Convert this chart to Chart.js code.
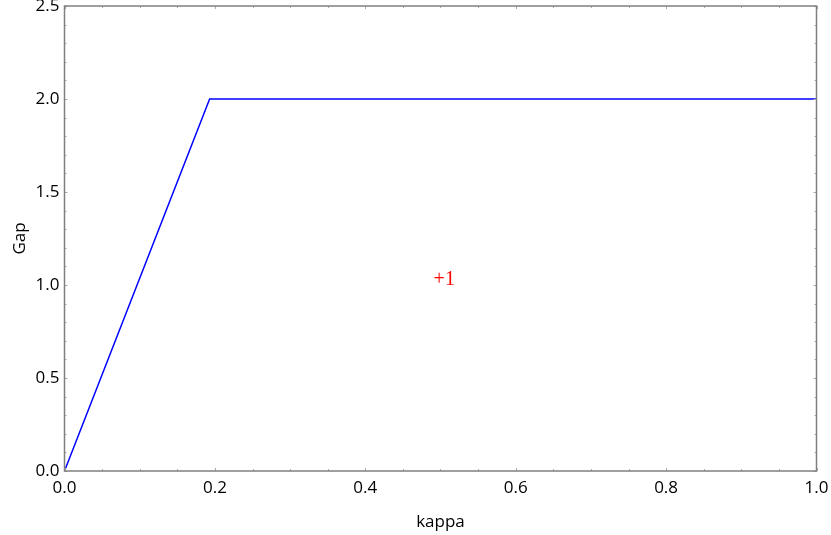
<!DOCTYPE html>
<html>
<head>
<meta charset="utf-8">
<script src="https://cdn.jsdelivr.net/npm/chart.js@4"></script>
<style>
  html, body { margin: 0; padding: 0; background: #fff; }
  #wrap { width: 831px; height: 535px; }
</style>
</head>
<body>
<div id="wrap"><canvas id="chart"></canvas></div>
<script>
// data
const kappa = [0.0, 0.193, 1.0];
const gap = [0.0, 2.0, 2.0];
const xMajorTicks = [0.0, 0.2, 0.4, 0.6, 0.8, 1.0];
const xMinorStep = 0.05;
const yMajorTicks = [0.0, 0.5, 1.0, 1.5, 2.0, 2.5];
const yMinorStep = 0.1;
const noteText = ['+1'];
const noteX = [0.505];
const noteY = [1.03];

// frame, inward ticks and the red note
const framePlugin = {
    id: 'frame',
    afterDraw(chart) {
        const { ctx, chartArea: a, scales: { x, y } } = chart;
        ctx.save();
        ctx.strokeStyle = '#aaaaaa';
        ctx.lineWidth = 1;
        ctx.beginPath();
        for (let v = 0; v <= 1.0001; v += xMinorStep) {
            const px = Math.round(x.getPixelForValue(v)) + 0.5;
            const major = xMajorTicks.some(t => Math.abs(t - v) < 1e-6);
            const len = major ? 3 : 2;
            ctx.moveTo(px, a.bottom); ctx.lineTo(px, a.bottom - len);
            ctx.moveTo(px, a.top); ctx.lineTo(px, a.top + len);
        }
        for (let v = 0; v <= 2.5001; v += yMinorStep) {
            const py = Math.round(y.getPixelForValue(v)) + 0.5;
            const major = yMajorTicks.some(t => Math.abs(t - v) < 1e-6);
            const len = major ? 3 : 2;
            ctx.moveTo(a.left, py); ctx.lineTo(a.left + len, py);
            ctx.moveTo(a.right, py); ctx.lineTo(a.right - len, py);
        }
        ctx.stroke();

        ctx.strokeStyle = '#808080';
        ctx.lineWidth = 1.5;
        ctx.strokeRect(a.left, a.top, a.right - a.left, a.bottom - a.top);

        ctx.fillStyle = '#ff0000';
        ctx.font = '20px "Liberation Serif", serif';
        ctx.textAlign = 'center';
        ctx.textBaseline = 'middle';
        noteText.forEach((t, i) => {
            ctx.fillText(t, x.getPixelForValue(noteX[i]), y.getPixelForValue(noteY[i]));
        });
        ctx.restore();
    }
};

const labelFont = { family: '"Open Sans", sans-serif', size: 17 };

const ctx = document.getElementById('chart').getContext('2d');
new Chart(ctx, {
    type: 'scatter',
    data: {
        datasets: [{
            data: kappa.map((k, i) => ({ x: k, y: gap[i] })),
            showLine: true,
            borderColor: '#0000ff',
            borderWidth: 1.5,
            pointRadius: 0,
            fill: false,
            tension: 0
        }]
    },
    options: {
        responsive: true,
        maintainAspectRatio: false,
        animation: false,
        layout: { padding: { top: 6, right: 14.5, left: 0, bottom: 0 } },
        scales: {
            x: {
                type: 'linear',
                min: 0, max: 1,
                afterFit: s => {
                    s.height = 64;
                    s.paddingLeft = 0; s.paddingRight = 0;
                },
                afterBuildTicks: s => { s.ticks = xMajorTicks.map(v => ({ value: v })); },
                grid: { display: false, drawTicks: false },
                border: { display: false },
                ticks: {
                    color: '#000',
                    padding: 7,
                    maxRotation: 0,
                    font: labelFont,
                    callback: v => v.toFixed(1)
                },
                title: {
                    display: true, text: 'kappa', color: '#000',
                    font: labelFont,
                    padding: { top: 0, bottom: 3 }
                }
            },
            y: {
                type: 'linear',
                min: 0, max: 2.5,
                afterFit: s => {
                    s.width = 64.5;
                    s.paddingTop = 0; s.paddingBottom = 0;
                },
                afterBuildTicks: s => { s.ticks = yMajorTicks.map(v => ({ value: v })); },
                grid: { display: false, drawTicks: false },
                border: { display: false },
                ticks: {
                    color: '#000',
                    padding: 5,
                    font: labelFont,
                    callback: v => v.toFixed(1)
                },
                title: {
                    display: true, text: 'Gap', color: '#000',
                    font: labelFont,
                    padding: { top: 10, bottom: 0 }
                }
            }
        },
        plugins: {
            legend: { display: false },
            tooltip: { enabled: false }
        }
    },
    plugins: [framePlugin]
});
</script>
</body>
</html>
